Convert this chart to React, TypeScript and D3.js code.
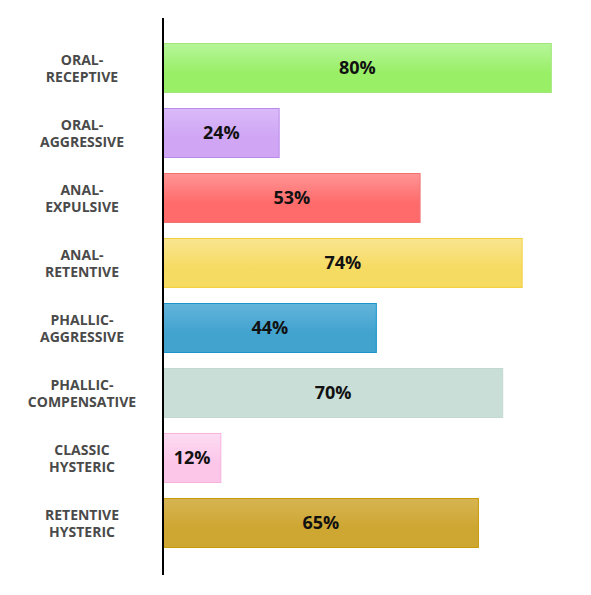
import { scaleBand, scaleLinear } from "d3";

const categories = [
  "ORAL-|RECEPTIVE",
  "ORAL-|AGGRESSIVE",
  "ANAL-|EXPULSIVE",
  "ANAL-|RETENTIVE",
  "PHALLIC-|AGGRESSIVE",
  "PHALLIC-|COMPENSATIVE",
  "CLASSIC|HYSTERIC",
  "RETENTIVE|HYSTERIC",
];
const values = [80, 24, 53, 74, 44, 70, 12, 65];
const baseColors = ["#99ef66", "#cfa5f4", "#ff6b6b", "#f6db62", "#42a3cf", "#c9ded6", "#fcc6e9", "#cea632"];
const topColors = ["#b6f69a", "#dabaf8", "#ff9595", "#fae591", "#62b4da", "#c9ded6", "#fddcf2", "#d6b452"];
const strokeColors = ["#a2e67a", "#b98aea", "#f27272", "#f3d040", "#1a94c9", "#c2d9cf", "#f6b2dd", "#c79a08"];

const width = 591;
const height = 595;
const axisX = 163;

const App = () => {
  const xScale = scaleLinear().domain([0, 100]).range([axisX, axisX + 486]);
  const yScale = scaleBand<number>()
    .domain(values.map((_, i) => i))
    .range([35.5, 555.5])
    .paddingInner(15 / 65)
    .paddingOuter(7.5 / 65);

  return (
    <svg
      width={width}
      height={height}
      style={{ position: "absolute", left: 0, top: 0 }}
      fontFamily="'Open Sans', sans-serif"
    >
      <defs>
        {values.map((_, i) => (
          <linearGradient key={`g-${i}`} id={`grad-${i}`} x1="0" y1="0" x2="0" y2="1">
            <stop offset="0" stopColor={topColors[i]} />
            <stop offset="0.6" stopColor={baseColors[i]} />
            <stop offset="1" stopColor={baseColors[i]} />
          </linearGradient>
        ))}
      </defs>
      {values.map((v, i) => {
        const y = Number(yScale(i));
        const h = yScale.bandwidth();
        const lines = categories[i].split("|");
        return (
          <g key={`bar-${i}`}>
            <rect
              x={xScale(0) + 0.5}
              y={y + 0.5}
              width={xScale(v) - xScale(0) - 1}
              height={h - 1}
              fill={`url(#grad-${i})`}
              stroke={strokeColors[i]}
              strokeWidth={1}
            />
            <text
              x={(xScale(0) + xScale(v)) / 2}
              y={y + h / 2}
              dy="0.35em"
              textAnchor="middle"
              fontSize="18px"
              fontWeight="bold"
              fill="#111"
            >
              {`${v}%`}
            </text>
            <text
              x={82}
              y={y + h / 2}
              textAnchor="middle"
              fontSize="14px"
              fontWeight="bold"
              fill="#4a4a4a"
            >
              <tspan x={82} dy="-0.2em">
                {lines[0]}
              </tspan>
              <tspan x={82} dy="1.2em">
                {lines[1]}
              </tspan>
            </text>
          </g>
        );
      })}
      <line x1={axisX} x2={axisX} y1={18} y2={575} stroke="#000" strokeWidth={2} />
    </svg>
  );
};

export default App;
